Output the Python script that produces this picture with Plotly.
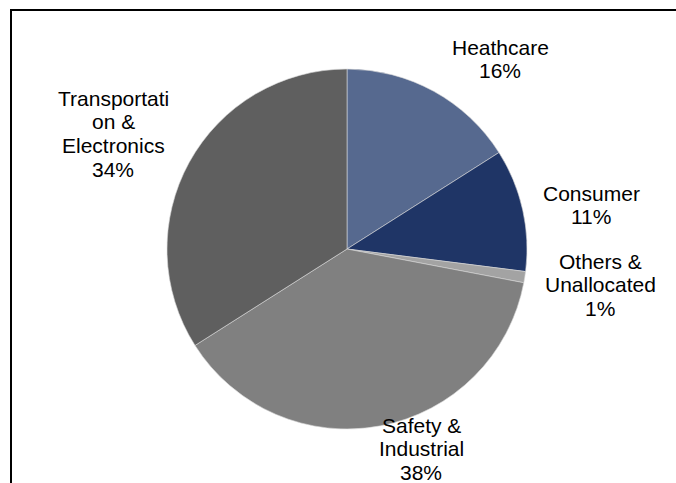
import plotly.graph_objects as go

# Segment revenue share (%)
segments = ["Heathcare", "Consumer", "Others & Unallocated", "Safety & Industrial", "Transportation & Electronics"]
shares = [16, 11, 1, 38, 34]
colors = ["#56698f", "#1f3566", "#a3a3a3", "#808080", "#5f5f5f"]

# Label text lines per segment (name lines; the percentage line is appended from shares)
label_lines = [
    ["Heathcare"],
    ["Consumer"],
    ["Others &", "Unallocated"],
    ["Safety &", "Industrial"],
    ["Transportati", "on &", "Electronics"],
]
# Centre x (px) and first-line y (px) of each label block, plus line step
label_pos = [(500, 47), (591, 193), (600, 261), (421, 425), (113, 98)]
line_step = 23.8

W, H = 676, 483
cx, cy, r = 347, 249, 180

fig = go.Figure(go.Pie(
    labels=segments,
    values=shares,
    sort=False,
    direction="clockwise",
    rotation=0,
    marker=dict(colors=colors, line=dict(color="#d9d9d9", width=0.6)),
    textinfo="none",
    hoverinfo="label+percent",
    showlegend=False,
    domain=dict(x=[(cx - r) / W, (cx + r) / W],
                y=[(H - cy - r) / H, (H - cy + r) / H]),
))

annotations = []
for lines, share, (lx, ly) in zip(label_lines, shares, label_pos):
    all_lines = lines + [f"{share}%"]
    for i, t in enumerate(all_lines):
        y_px = ly + i * line_step
        annotations.append(dict(
            text=t, x=lx / W, y=1 - y_px / H, xref="paper", yref="paper",
            xanchor="center", yanchor="middle", showarrow=False,
            font=dict(family="Liberation Sans, Arial", size=21, color="#000000"),
        ))

fig.update_layout(
    width=W, height=H,
    margin=dict(l=0, r=0, t=0, b=0),
    paper_bgcolor="white",
    plot_bgcolor="white",
    annotations=annotations,
    shapes=[dict(type="rect", xref="paper", yref="paper",
                 x0=11 / W, x1=1.05, y0=-0.05, y1=1 - 10 / H,
                 line=dict(color="#000000", width=2))],
)

fig.write_html("out.html")
